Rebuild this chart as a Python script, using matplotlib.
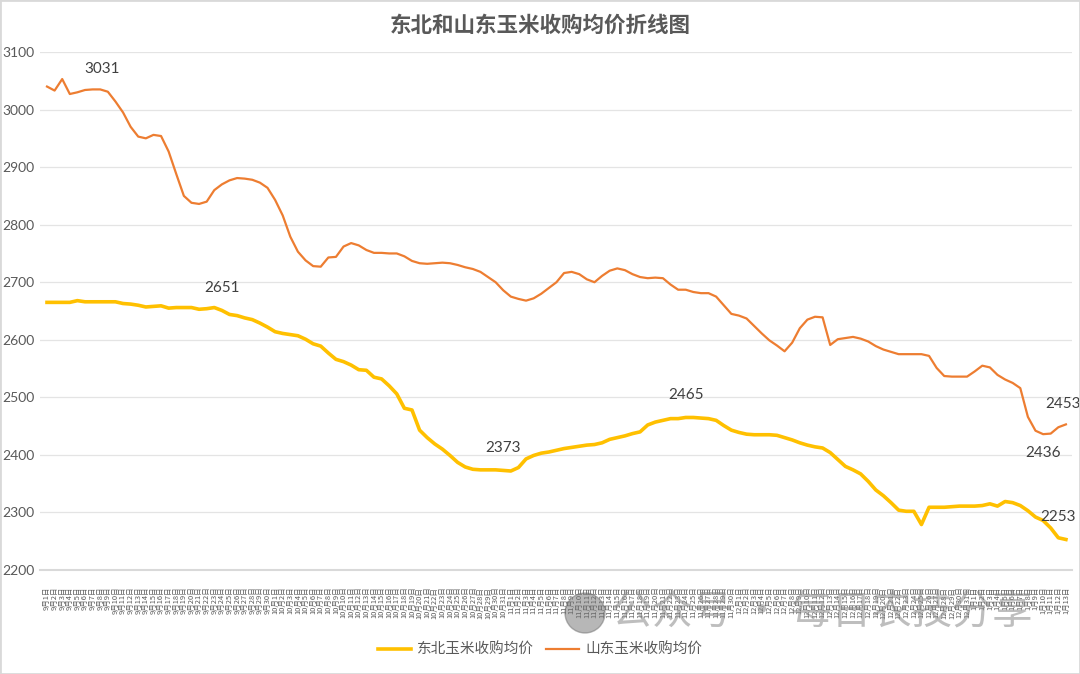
import matplotlib
matplotlib.use('Agg')
import matplotlib.pyplot as plt
from matplotlib.patches import Rectangle, Ellipse

plt.rcParams['font.family'] = ['Lato', 'Noto Sans CJK SC', 'DejaVu Sans']

# 日期 9月1日 ~ 1月13日
months = [9, 10, 11, 12, 1]
month_days = [30, 31, 30, 31, 13]
dates = []
for m, n in zip(months, month_days):
    for d in range(1, n + 1):
        dates.append(f'{m}月{d}日')

# 东北玉米收购均价
northeast = [
    2665, 2665, 2665, 2665, 2668, 2666, 2666, 2666, 2666, 2666,
    2663, 2662, 2660, 2657, 2658, 2659, 2655, 2656, 2656, 2656,
    2653, 2654, 2656, 2651, 2644, 2642, 2638, 2635, 2629, 2622,
    2614, 2611, 2609, 2607, 2601, 2593, 2589, 2577, 2566, 2562,
    2556, 2548, 2547, 2535, 2532, 2520, 2506, 2481, 2478, 2443,
    2430, 2419, 2410, 2399, 2387, 2379, 2375, 2374, 2374, 2374,
    2373, 2372, 2378, 2393, 2399, 2403, 2405, 2408, 2411, 2413,
    2415, 2417, 2418, 2421, 2427, 2430, 2433, 2437, 2440, 2452,
    2457, 2460, 2463, 2463, 2465, 2465, 2464, 2463, 2460, 2451,
    2443, 2439, 2436, 2435, 2435, 2435, 2434, 2430, 2426, 2421,
    2417, 2414, 2412, 2404, 2392, 2380, 2374, 2367, 2354, 2339,
    2329, 2317, 2304, 2302, 2302, 2279, 2309, 2309, 2309, 2310,
    2311, 2311, 2311, 2312, 2315, 2311, 2319, 2317, 2312, 2303,
    2292, 2286, 2273, 2256, 2253,
]

# 山东玉米收购均价
shandong = [
    3040, 3033, 3053, 3027, 3030, 3034, 3035, 3035, 3031, 3014,
    2995, 2970, 2953, 2950, 2956, 2954, 2927, 2888, 2850, 2838,
    2836, 2840, 2860, 2870, 2877, 2881, 2880, 2878, 2873, 2864,
    2843, 2816, 2779, 2753, 2738, 2728, 2727, 2743, 2744, 2762,
    2768, 2764, 2756, 2751, 2751, 2750, 2750, 2745, 2737, 2733,
    2732, 2733, 2734, 2733, 2730, 2726, 2723, 2718, 2709, 2700,
    2686, 2675, 2671, 2668, 2672, 2680, 2690, 2700, 2716, 2718,
    2714, 2705, 2700, 2711, 2720, 2724, 2721, 2714, 2709, 2707,
    2708, 2707, 2696, 2687, 2687, 2683, 2681, 2681, 2675, 2660,
    2645, 2642, 2637, 2624, 2611, 2599, 2590, 2580, 2595, 2620,
    2635, 2640, 2639, 2591, 2601, 2603, 2605, 2602, 2597, 2589,
    2583, 2579, 2575, 2575, 2575, 2575, 2572, 2551, 2537, 2536,
    2536, 2536, 2545, 2555, 2552, 2539, 2531, 2525, 2516, 2466,
    2442, 2436, 2437, 2448, 2453,
]

# 标注的数据点 (序号, x偏移, y偏移)
ne_marks = [(23, 0, 22), (60, 0, 22), (84, 0, 22), (134, -8, 22)]
sd_marks = [(8, -6, 23), (131, 0, -19), (134, -3, 20)]

x = list(range(len(dates)))

fig = plt.figure(figsize=(10.8, 6.74), dpi=100)
fig.patches.append(Rectangle((0, 0), 1, 1, transform=fig.transFigure,
                             fill=False, edgecolor='#d9d9d9', lw=2))
ax = fig.add_axes([40 / 1080, 1 - 570 / 674, 1032 / 1080, 518 / 674])

ax.plot(x, northeast, color='#FFC000', lw=2.6, label='东北玉米收购均价', zorder=3)
ax.plot(x, shandong, color='#ED7D31', lw=1.6, label='山东玉米收购均价', zorder=3)

for i, dx, dy in ne_marks:
    ax.annotate(str(northeast[i]), (i, northeast[i]), xytext=(dx, dy),
                textcoords='offset pixels', ha='center', va='center',
                fontsize=11, color='#404040')
for i, dx, dy in sd_marks:
    ax.annotate(str(shandong[i]), (i, shandong[i]), xytext=(dx, dy),
                textcoords='offset pixels', ha='center', va='center',
                fontsize=11, color='#404040')

ax.set_ylim(2200, 3100)
ax.set_yticks(range(2200, 3101, 100))
ax.set_xlim(-0.92, 134.8)
ax.set_xticks(x)
ax.set_xticklabels(dates, rotation=90, fontsize=5.4, color='#595959',
                   family=['Noto Sans CJK SC', 'DejaVu Sans'])
ax.tick_params(axis='both', length=0)
ax.tick_params(axis='y', labelsize=10, labelcolor='#595959', pad=4)
ax.tick_params(axis='x', pad=12)
ax.grid(axis='y', color='#e4e4e4', lw=0.9)
ax.set_axisbelow(True)
for s in ['top', 'right', 'left']:
    ax.spines[s].set_visible(False)
ax.spines['bottom'].set_color('#d9d9d9')
ax.spines['bottom'].set_linewidth(1.5)

fig.text(0.5, 1 - 25 / 674, '东北和山东玉米收购均价折线图', ha='center', va='center',
         fontsize=15.5, fontweight='bold', color='#595959',
         family=['Noto Sans CJK SC'])

fig.legend(loc='center', bbox_to_anchor=(0.5, 1 - 650 / 674), ncol=2,
           frameon=False, labelcolor='#595959',
           handlelength=2.3, columnspacing=0.8, handletextpad=0.4,
           prop={'family': ['Noto Sans CJK SC'], 'size': 10.5})

# 水印
fig.add_artist(Ellipse((585 / 1080, 1 - 613 / 674), 40 / 1080, 40 / 674,
                       transform=fig.transFigure, color='#707070',
                       alpha=0.5, zorder=10))
fig.text(612 / 1080, 1 - 612 / 674, '公众号 · 每日农技分享', ha='left', va='center',
         fontsize=29, color='#8a8a8a', alpha=0.55,
         family=['Noto Sans CJK SC'], zorder=10)

fig.savefig('out.png', dpi=100)
